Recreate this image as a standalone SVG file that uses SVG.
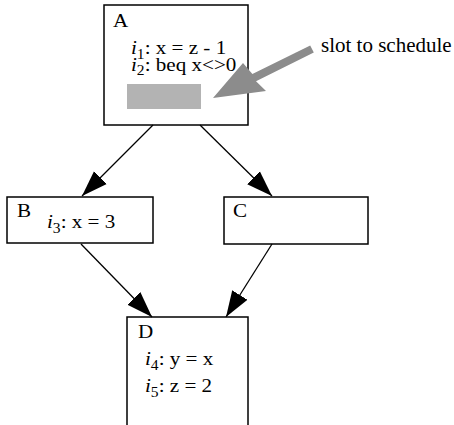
<svg xmlns="http://www.w3.org/2000/svg" width="454" height="425" viewBox="0 0 454 425">
<style>
.box{fill:#fff;stroke:#000;stroke-width:1.5}
.edge{stroke:#000;stroke-width:1.3;fill:none}
text{font-family:"Liberation Serif","Times New Roman",serif;font-size:19px;fill:#000}
.it{font-style:italic}
.sub{font-size:14px}
.note{font-size:21px}
</style>
<defs>
<marker id="ah" markerUnits="userSpaceOnUse" markerWidth="30" markerHeight="24" refX="26" refY="10" orient="auto">
<path d="M0,1 L26,10 L0,19 Z" fill="#000"/>
</marker>
</defs>
<rect width="454" height="425" fill="#fff"/>
<g id="nodeA">
<rect class="box" x="104" y="5" width="144" height="120"/>
<text transform="translate(113,27) scale(1.11,1)">A</text>
<text transform="translate(131,54) scale(1.11,1)"><tspan class="it">i</tspan><tspan class="sub" dy="4.5">1</tspan><tspan dy="-4.5">: x = z - 1</tspan></text>
<text transform="translate(131,70.5) scale(1.11,1)"><tspan class="it">i</tspan><tspan class="sub" dy="4.5">2</tspan><tspan dy="-4.5">: beq x&lt;&gt;0</tspan></text>
<rect x="127" y="84" width="74" height="25" fill="#b3b3b3"/>
</g>
<g id="nodeB">
<rect class="box" x="7" y="197" width="146" height="46"/>
<text transform="translate(17,217) scale(1.11,1)">B</text>
<text transform="translate(47,228) scale(1.11,1)"><tspan class="it">i</tspan><tspan class="sub" dy="4.5">3</tspan><tspan dy="-4.5">: x = 3</tspan></text>
</g>
<g id="nodeC">
<rect class="box" x="224" y="197" width="144" height="47"/>
<text transform="translate(233,217) scale(1.11,1)">C</text>
</g>
<g id="nodeD">
<rect class="box" x="127" y="317" width="121" height="150"/>
<text transform="translate(138,338) scale(1.11,1)">D</text>
<text transform="translate(145,365) scale(1.11,1)"><tspan class="it">i</tspan><tspan class="sub" dy="4.5">4</tspan><tspan dy="-4.5">: y = x</tspan></text>
<text transform="translate(145,392) scale(1.11,1)"><tspan class="it">i</tspan><tspan class="sub" dy="4.5">5</tspan><tspan dy="-4.5">: z = 2</tspan></text>
</g>
<g id="annotation">
<polygon points="310.2,45.4 252.4,74 243,63 213,98 266,91 256,81.2 313.8,52.6" fill="#8c8c8c"/>
<text class="note" x="321" y="52">slot to schedule</text>
</g>
<g id="connectors">
<line class="edge" x1="153" y1="125" x2="82" y2="196" marker-end="url(#ah)"/>
<line class="edge" x1="200" y1="125" x2="272" y2="196" marker-end="url(#ah)"/>
<line class="edge" x1="81" y1="244" x2="152" y2="317" marker-end="url(#ah)"/>
<line class="edge" x1="272" y1="244" x2="226" y2="317" marker-end="url(#ah)"/>
</g>
</svg>
